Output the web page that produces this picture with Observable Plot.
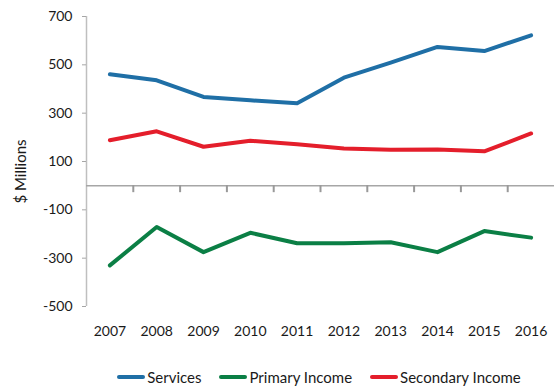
<!DOCTYPE html>
<html>
<head>
<meta charset="utf-8">
<script src="https://cdn.jsdelivr.net/npm/d3@7"></script>
<script src="https://cdn.jsdelivr.net/npm/@observablehq/plot@0.6"></script>
<style>
  body { margin: 0; background: #fff; font-family: Lato, "Open Sans", sans-serif; }
  #chart { width: 554px; }
  .legend { display: flex; justify-content: center; align-items: center; height: 22px; padding-left: 84px; box-sizing: border-box; width: 554px; font-size: 15px; color: #1a1a1a; }
  .legend .item { display: flex; align-items: center; margin: 0 9px; }
  .legend .sw { width: 28px; height: 4px; border-radius: 2px; margin-right: 2px; }
</style>
</head>
<body>
<div id="chart"></div>
<script>
const years = [2007, 2008, 2009, 2010, 2011, 2012, 2013, 2014, 2015, 2016];
const services = [461, 436, 367, 353, 341, 447, 509, 574, 557, 622];
const primaryIncome = [-330, -171, -275, -195, -238, -238, -234, -275, -188, -215];
const secondaryIncome = [188, 225, 161, 186, 171, 154, 149, 150, 142, 216];
const seriesNames = ["Services", "Primary Income", "Secondary Income"];
const seriesColors = ["#1f6fa6", "#0b7f45", "#e41e2b"];
const yTicks = [700, 500, 300, 100, -100, -300, -500];

const table = [];
[services, primaryIncome, secondaryIncome].forEach((vals, s) => {
  vals.forEach((v, i) => table.push({year: years[i], value: v, series: seriesNames[s]}));
});
const xDomain = [years[0] - 0.5, years[years.length - 1] + 0.5];
const boundaries = years.slice(0, -1).map(y => y + 0.5);

const plot = Plot.plot({
  width: 554,
  height: 366,
  marginTop: 16,
  marginBottom: 60,
  marginLeft: 86,
  marginRight: 0,
  style: {fontFamily: "Lato, 'Open Sans', sans-serif", fontSize: "14px", color: "#1a1a1a", background: "#fff"},
  x: {domain: xDomain},
  y: {domain: [-500, 700]},
  color: {domain: seriesNames, range: seriesColors},
  marks: [
    Plot.ruleX([xDomain[0]], {stroke: "#bfbfbf", strokeWidth: 1.5}),
    Plot.axisY({ticks: yTicks, tickSize: 4, tickPadding: 10, stroke: "#a6a6a6", label: null, tickFormat: d => String(d)}),
    Plot.axisX({ticks: years, tickSize: 0, tickPadding: 20, label: null, tickFormat: d => String(d)}),
    Plot.ruleY([0], {stroke: "#a6a6a6", strokeWidth: 1.5}),
    Plot.ruleX(boundaries, {x: d => d, y1: 0, y2: 0, insetTop: 7, stroke: "#999999", strokeWidth: 2}),
    Plot.line(table, {x: "year", y: "value", z: "series", stroke: "series", strokeWidth: 4, strokeLinecap: "round", strokeLinejoin: "round"}),
    Plot.text(["$ Millions"], {frameAnchor: "left", textAnchor: "middle", rotate: -90, dx: -65, dy: 10, fontSize: 15, fill: "#1a1a1a"})
  ]
});
document.getElementById("chart").appendChild(plot);

const legend = document.createElement("div");
legend.className = "legend";
seriesNames.forEach((n, i) => {
  const item = document.createElement("div");
  item.className = "item";
  const sw = document.createElement("span");
  sw.className = "sw";
  sw.style.background = seriesColors[i];
  const t = document.createElement("span");
  t.textContent = n;
  item.appendChild(sw);
  item.appendChild(t);
  legend.appendChild(item);
});
document.body.appendChild(legend);
</script>
</body>
</html>
